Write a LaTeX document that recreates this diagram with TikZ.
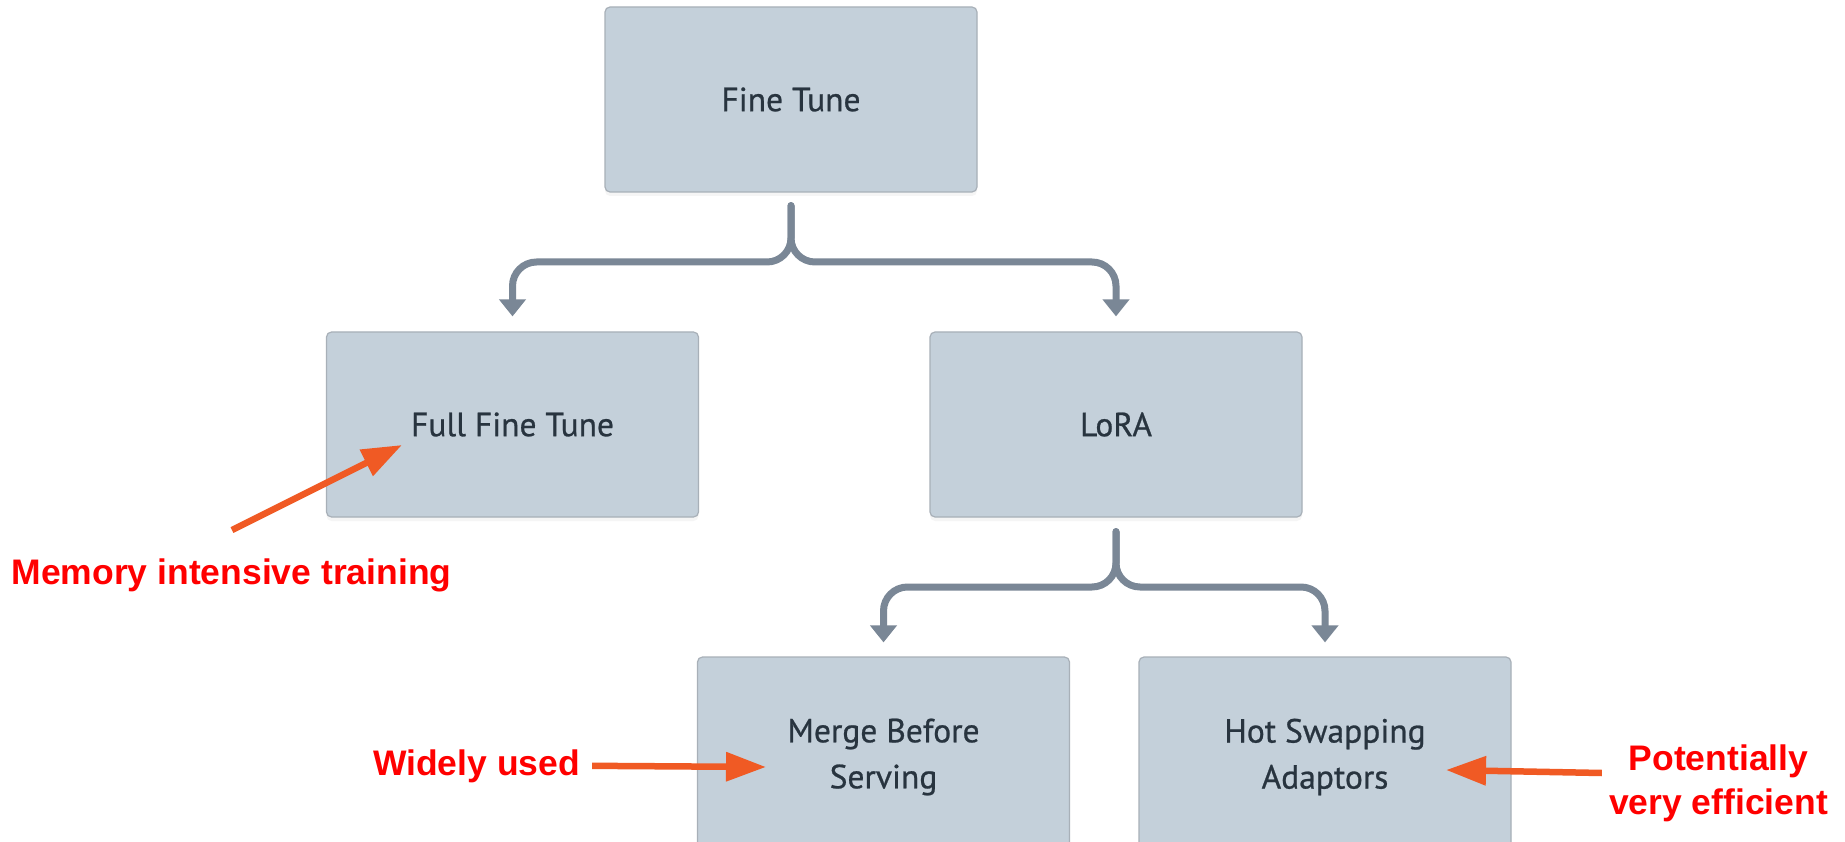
\documentclass[tikz,border=0pt]{standalone}
\usepackage{fontspec}
\setmainfont{PT Sans}
\newfontfamily\stagefont{PT Sans}[FakeBold=0.7]
\newfontfamily\notefont{Liberation Sans}
\usetikzlibrary{arrows.meta,shadows}
\definecolor{boxfill}{RGB}{196,208,218}
\definecolor{boxline}{RGB}{168,176,184}
\definecolor{boxtext}{RGB}{40,52,63}
\definecolor{connector}{RGB}{122,135,150}
\definecolor{pointer}{RGB}{240,90,36}
\definecolor{notered}{RGB}{255,0,0}

\begin{document}
\begin{tikzpicture}[x=1pt,y=-1pt,
  stage/.style={draw=boxline, line width=1.2pt, fill=boxfill, rounded corners=5pt,
    minimum width=372pt, minimum height=185pt, inner sep=0pt, align=center,
    text=boxtext, font=\stagefont\fontsize{33.5}{46}\selectfont,
    drop shadow={shadow xshift=0pt, shadow yshift=-4pt, opacity=0.08}},
  conn/.style={draw=connector, line width=7pt, line cap=round, rounded corners=24pt,
    -{Triangle[width=26pt,length=17pt]}},
  callout/.style={draw=pointer, line width=6.5pt, -{Triangle[width=28pt,length=40pt]}},
  note/.style={text=notered, font=\notefont\bfseries\fontsize{35.5}{44}\selectfont,
    inner sep=0pt, align=center}
]
\fill[white] (0,0) rectangle (1845,842);
\useasboundingbox (0,0) rectangle (1845,842);

% tree of stages
\node[stage] (ft) at (791,99.5) {Fine Tune};
\node[stage] (fft) at (512.5,424.5) {Full Fine Tune};
\node[stage] (lora) at (1116,424.5) {LoRA};
\node[stage, minimum height=200pt] (merge) at (883.5,757) {Merge Before\\Serving};
\node[stage, minimum height=200pt] (hot) at (1325,757) {Hot Swapping\\Adaptors};

% forks
\coordinate (ftfork) at (791,262);
\draw[conn] ([yshift=-13pt]ft.south) -- (ftfork) -- (ftfork -| fft) -- ([yshift=15pt]fft.north);
\draw[conn] ([yshift=-13pt]ft.south) -- (ftfork) -- (ftfork -| lora) -- ([yshift=15pt]lora.north);

\coordinate (lfork) at (1116,587);
\draw[conn] ([yshift=-14pt]lora.south) -- (lfork) -- (lfork -| merge) -- ([yshift=14pt]merge.north);
\draw[conn] ([yshift=-14pt]lora.south) -- (lfork) -- (lfork -| hot) -- ([yshift=14pt]hot.north);

% notes
\node[note, anchor=base] (memnote) at (231.5,584) {Memory intensive training};
\draw[callout] ([xshift=0.5pt,yshift=28pt]memnote.north) -- ([xshift=-110.5pt,yshift=-20.5pt]fft.center);

\node[note, anchor=base] (widenote) at (476.5,775) {Widely used};
\draw[callout] ([xshift=12pt]widenote.east) -- ([xshift=-117.5pt,yshift=-10pt]merge.center);

\node[note] (potnote) at (1718.5,783) {Potentially\\very efficient};
\draw[callout] ([xshift=-7pt,yshift=10pt]potnote.west) -- ([xshift=121pt,yshift=-13pt]hot.center);
\end{tikzpicture}
\end{document}
